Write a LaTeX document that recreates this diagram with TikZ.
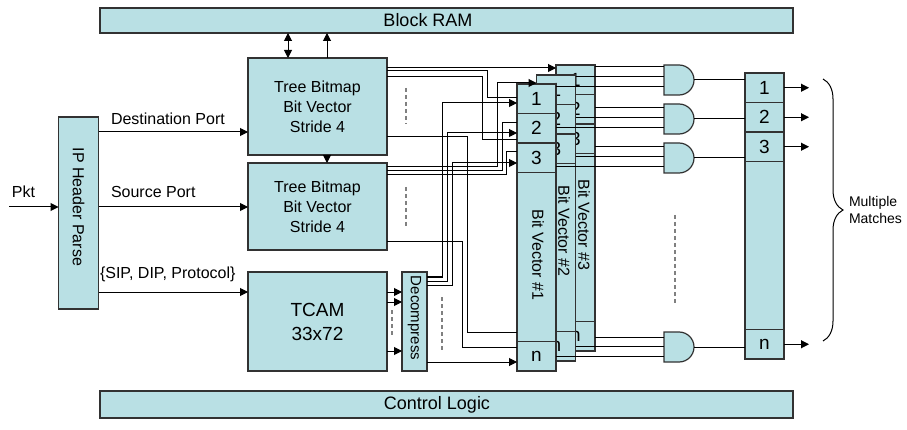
\documentclass[tikz,border=0pt]{standalone}
\usepackage{fontspec}
\setmainfont{Liberation Sans}
\usetikzlibrary{positioning,arrows.meta,decorations.pathreplacing}
\definecolor{boxfill}{RGB}{185,224,228}
\definecolor{boxline}{RGB}{50,50,50}

\begin{document}
\begin{tikzpicture}[x=1pt,y=-1pt,
	every node/.style={inner sep=0pt,outer sep=0pt},
	box/.style={draw=boxline,fill=boxfill,line width=1.2pt},
	lbl/.style={font=\fontsize{16}{20}\selectfont},
	big/.style={font=\fontsize{18}{21}\selectfont},
	cell/.style={box,minimum width=39pt,minimum height=29.5pt,font=\fontsize{19}{22}\selectfont},
	column/.style={box,minimum width=39pt,minimum height=286pt},
	bvtext/.style={rotate=-90,font=\fontsize{16}{19}\selectfont},
	wire/.style={line width=1pt},
	arr/.style={wire,-{Triangle[length=8pt,width=8pt]}},
	dotsline/.style={draw=gray,line width=1.3pt,dash pattern=on 4pt off 3pt}]

	\useasboundingbox (0,0) rectangle (907,430);

	%memory and control
	\node[box,minimum width=693pt,minimum height=25pt] (ram) at (446.5,20.5) {};
	\node[big] (ramtext) at (428,20.5) {Block RAM};
	\node[box,minimum width=693pt,minimum height=27pt] (ctl) at (446.5,404.5) {};
	\node[big] (ctltext) at (437,405) {Control Logic};

	%parser
	\node[box,minimum width=40pt,minimum height=192pt] (iph) at (78.5,213) {};
	\node[bvtext] (iphtext) at (78.5,207) {IP Header Parse};

	%lookup blocks
	\node[box,lbl,minimum width=139pt,minimum height=97pt,align=center] (tb1) at (317.5,106.5) {Tree Bitmap\\Bit Vector\\Stride 4};
	\node[box,lbl,minimum width=139pt,minimum height=87pt,align=center] (tb2) at (317.5,206.5) {Tree Bitmap\\Bit Vector\\Stride 4};
	\node[box,minimum width=139pt,minimum height=99pt,align=center,font=\fontsize{19}{24}\selectfont] (tcam) at (317.5,321.5) {TCAM\\33x72};
	\node[box,minimum width=25pt,minimum height=99pt] (dec) at (414.5,321.5) {};
	\node[rotate=-90,font=\fontsize{15}{18}\selectfont] (dectext) at (414.5,318) {Decompress};

	%bit vectors, back to front
	\node[column] (bv3) at (575.5,208) {};
	\node[cell,anchor=north] (c31) at (bv3.north) {1};
	\node[cell,below=0pt of c31] (c32) {2};
	\node[cell,below=0pt of c32] (c33) {3};
	\node[cell,anchor=south] (c3n) at (bv3.south) {n};
	\node[bvtext] (t3) at (584,225) {Bit Vector \#3};

	\node[column] (bv2) at (556,218) {};
	\node[cell,anchor=north] (c21) at (bv2.north) {1};
	\node[cell,below=0pt of c21] (c22) {2};
	\node[cell,below=0pt of c22] (c23) {3};
	\node[cell,anchor=south] (c2n) at (bv2.south) {n};
	\node[bvtext] (t2) at (564,231) {Bit Vector \#2};

	\node[column,minimum height=287pt] (bv1) at (536.5,227.5) {};
	\node[cell,anchor=north] (c11) at (bv1.north) {1};
	\node[cell,below=0pt of c11] (c12) {2};
	\node[cell,below=0pt of c12] (c13) {3};
	\node[cell,anchor=south] (c1n) at (bv1.south) {n};
	\node[bvtext] (t1) at (538,255) {Bit Vector \#1};

	%and gates
	\foreach \g/\y in {g1/80,g2/119,g3/158,gn/347}{
		\node[minimum size=30pt] (\g) at (679,\y) {};
		\draw[box] (\g.south west) -- (\g.north west) -- (\g.north)
			arc[start angle=90,end angle=-90,radius=15pt] -- cycle;
	}

	%result column
	\node[column] (res) at (764.5,216) {};
	\node[cell,anchor=north] (r1) at (res.north) {1};
	\node[cell,below=0pt of r1] (r2) {2};
	\node[cell,below=0pt of r2] (r3) {3};
	\node[cell,anchor=south] (rn) at (res.south) {n};

	%inputs
	\coordinate (pkt) at (9,207);
	\draw[arr] (pkt) -- (iph.west |- pkt);
	\node[lbl,anchor=base west] (pktlbl) at (12,198) {Pkt};
	\draw[arr] (iph.east |- 0,132) -- (tb1.west |- 0,132);
	\node[lbl,anchor=base west] (dstlbl) at (111,125) {Destination Port};
	\draw[arr] (iph.east |- pkt) -- (tb2.west |- pkt);
	\node[lbl,anchor=base west] (srclbl) at (111,198) {Source Port};
	\draw[arr] (iph.east |- 0,292) -- (tcam.west |- 0,292);
	\node[lbl,anchor=base west] (siplbl) at (100,279) {\{SIP, DIP, Protocol\}};

	%block ram links
	\draw[wire,{Triangle[length=8pt,width=8pt]}-{Triangle[length=8pt,width=8pt]}] (ram.south -| 288,0) -- (tb1.north -| 288,0);
	\draw[arr] (tb1.north -| 327,0) -- (ram.south -| 327,0);
	\draw[arr] (tb1.south -| 327,0) -- (tb2.north -| 327,0);

	%tree bitmap outputs
	\draw[arr] (tb1.east |- 0,68) -- (bv3.west |- 0,68);
	\draw[wire] (tb1.east |- 0,71) -| (487,98) -- (bv1.west |- 0,98);
	\draw[wire] (tb1.east |- 0,77) -| (482,140) -- (bv1.west |- 0,140);
	\draw[wire] (tb1.east |- 0,137) -| (467,332) -- (bv1.west |- 0,332);
	\draw[arr] (tb2.east |- 0,167) -| (497,83) -- (bv2.west |- 0,83);
	\draw[wire] (tb2.east |- 0,171) -| (502,123) -- (bv1.west |- 0,123);
	\draw[wire] (tb2.east |- 0,175) -| (506,152) -- (bv1.west |- 0,152);
	\draw[wire] (tb2.east |- 0,242) -| (462,347) -- (bv1.west |- 0,347);

	%tcam and decompress
	\draw[arr] (tcam.east |- 0,292) -- (dec.west |- 0,292);
	\draw[arr] (tcam.east |- 0,302) -- (dec.west |- 0,302);
	\draw[arr] (tcam.east |- 0,351) -- (dec.west |- 0,351);
	\draw[arr] (dec.east |- 0,277) -| (442,103) -- (bv1.west |- 0,103);
	\draw[arr] (dec.east |- 0,281) -| (447,133) -- (bv1.west |- 0,133);
	\draw[arr] (dec.east |- 0,285) -| (452,163) -- (bv1.west |- 0,163);
	\draw[arr] (dec.east |- 0,362) -- (bv1.west |- 0,362);

	%dashes
	\draw[dotsline] (406,88) -- (406,124);
	\draw[dotsline] (406,187) -- (406,227);
	\draw[dotsline] (392,310) -- (392,335);
	\draw[dotsline] (442,297) -- (442,352);
	\draw[dotsline] (675,215) -- (675,305);

	%gate inputs
	\draw[wire] (bv3.east |- 0,67) -- (g1.west |- 0,67);
	\draw[wire] (bv2.east |- 0,77) -- (g1.west |- 0,77);
	\draw[wire] (bv1.east |- 0,87) -- (g1.west |- 0,87);
	\draw[wire] (bv3.east |- 0,108) -- (g2.west |- 0,108);
	\draw[wire] (bv2.east |- 0,118) -- (g2.west |- 0,118);
	\draw[wire] (bv1.east |- 0,128) -- (g2.west |- 0,128);
	\draw[wire] (bv3.east |- 0,147) -- (g3.west |- 0,147);
	\draw[wire] (bv2.east |- 0,157) -- (g3.west |- 0,157);
	\draw[wire] (bv1.east |- 0,167) -- (g3.west |- 0,167);
	\draw[wire] (bv3.east |- 0,337) -- (gn.west |- 0,337);
	\draw[wire] (bv2.east |- 0,346) -- (gn.west |- 0,346);
	\draw[wire] (bv1.east |- 0,356) -- (gn.west |- 0,356);

	%gate outputs
	\draw[wire] (g1.east) -- (res.west |- g1.east);
	\draw[wire] (g2.east) -- (res.west |- g2.east);
	\draw[wire] (g3.east) -- (res.west |- g3.east);
	\draw[wire] (gn.east) -- (res.west |- gn.east);

	%matches
	\draw[arr] (r1.east) -- ++(25,0);
	\draw[arr] (r2.east) -- ++(25,0);
	\draw[arr] (r3.east) -- ++(25,0);
	\draw[arr] (rn.east) -- ++(25,0);
	\draw[line width=1pt,decorate,decoration={brace,amplitude=20pt}] (823,79) -- (823,341);
	\node[align=left,anchor=west,font=\fontsize{14}{17}\selectfont] (mm) at (849,210) {Multiple\\Matches};
\end{tikzpicture}
\end{document}
